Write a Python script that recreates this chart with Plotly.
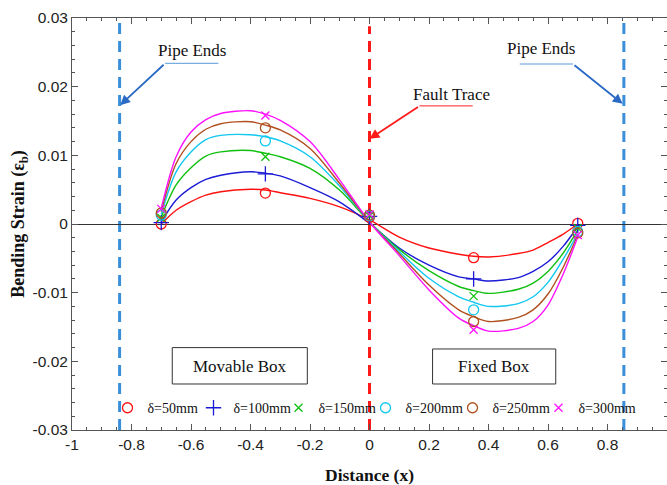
import plotly.graph_objects as go

# ---------------- data ----------------
marker_x = [-0.7, -0.35, 0.0, 0.35, 0.7]
series_names = ["δ=50mm", "δ=100mm", "δ=150mm", "δ=200mm", "δ=250mm", "δ=300mm"]
marker_y_50 = [0.0, 0.0045, 0.0010, -0.0049, 0.0001]
marker_y_100 = [0.0002, 0.0073, 0.0011, -0.0080, -0.0002]
marker_y_150 = [0.0009, 0.0098, 0.0012, -0.0105, -0.0006]
marker_y_200 = [0.0013, 0.0121, 0.0012, -0.0125, -0.0011]
marker_y_250 = [0.0016, 0.0140, 0.0013, -0.0142, -0.0013]
marker_y_300 = [0.0022, 0.0158, 0.0014, -0.0154, -0.0016]

curve_x = [-0.7, -0.65, -0.6, -0.55, -0.5, -0.4, -0.35, -0.3, -0.2, -0.1, 0.0,
           0.1, 0.2, 0.3, 0.35, 0.4, 0.5, 0.55, 0.6, 0.65, 0.7]
curve_y_50 = [0.0, 0.0020, 0.00325, 0.0042, 0.0047, 0.00505, 0.00495, 0.00456, 0.00374, 0.0025, 0.0006,
              -0.0019, -0.0035, -0.0044, -0.0047, -0.0048, -0.0043, -0.0038, -0.0027, -0.0015, 0.0]
curve_y_100 = [0.0003, 0.0035, 0.0053, 0.0065, 0.0071, 0.0076, 0.0074, 0.0070, 0.0053, 0.0032, 0.0001,
               -0.0035, -0.0060, -0.0077, -0.0080, -0.0083, -0.0078, -0.0069, -0.0055, -0.0033, -0.0004]
curve_y_150 = [0.0010, 0.0057, 0.0082, 0.0099, 0.0105, 0.0107, 0.0103, 0.0098, 0.0081, 0.0049, 0.0003,
               -0.0037, -0.0068, -0.0091, -0.0097, -0.0101, -0.0095, -0.0086, -0.0069, -0.0043, -0.0009]
curve_y_200 = [0.0014, 0.0076, 0.0105, 0.0123, 0.0129, 0.0130, 0.0127, 0.0121, 0.0098, 0.0055, 0.0003,
               -0.0040, -0.0079, -0.0106, -0.0114, -0.0120, -0.0116, -0.0106, -0.0085, -0.0052, -0.0014]
curve_y_250 = [0.0018, 0.0088, 0.0120, 0.0138, 0.0146, 0.0149, 0.0144, 0.0137, 0.0110, 0.0059, 0.0003,
               -0.0043, -0.0089, -0.0125, -0.0135, -0.0142, -0.0136, -0.0125, -0.0102, -0.0064, -0.0016]
curve_y_300 = [0.0023, 0.0098, 0.0134, 0.0152, 0.0161, 0.0165, 0.0160, 0.0151, 0.0120, 0.0064, 0.0003,
               -0.0046, -0.0096, -0.0137, -0.0148, -0.0156, -0.0152, -0.0142, -0.0118, -0.0074, -0.0019]

x_tick_vals = [-1, -0.8, -0.6, -0.4, -0.2, 0, 0.2, 0.4, 0.6, 0.8, 1]
x_tick_text = ["-1", "-0.8", "-0.6", "-0.4", "-0.2", "0", "0.2", "0.4", "0.6", "0.8", "1"]
y_tick_vals = [-0.03, -0.02, -0.01, 0, 0.01, 0.02, 0.03]
y_tick_text = ["-0.03", "-0.02", "-0.01", "0", "0.01", "0.02", "0.03"]

pipe_end_left = -0.84
pipe_end_right = 0.855
fault_x = 0.0

# ---------------- styles ----------------
colors = ["#ff1010", "#1a1ad6", "#10c010", "#10c8f0", "#b0501e", "#ff10ff"]
symbols = ["circle-open", "cross-thin-open", "x-thin-open", "circle-open", "circle-open", "x-thin-open"]
sizes = [10, 11, 8, 10, 10, 8]
marker_sets = [marker_y_50, marker_y_100, marker_y_150, marker_y_200, marker_y_250, marker_y_300]
curve_sets = [curve_y_50, curve_y_100, curve_y_150, curve_y_200, curve_y_250, curve_y_300]
legend_ids = ["legend", "legend2", "legend3", "legend4", "legend5", "legend6"]
legend_x = [0.0597, 0.2042, 0.3471, 0.4933, 0.6395, 0.7840]

SERIF = "Liberation Serif, Times New Roman, serif"
SANS = "Liberation Sans, Arial, sans-serif"

fig = go.Figure()

for name, cy, col in zip(series_names, curve_sets, colors):
    fig.add_trace(go.Scatter(x=curve_x, y=cy, mode="lines",
                             line=dict(color=col, width=1.4, shape="spline", smoothing=0.9),
                             showlegend=False, hoverinfo="skip"))

for name, my, col, sym, sz, lid in zip(series_names, marker_sets, colors, symbols, sizes, legend_ids):
    fig.add_trace(go.Scatter(x=marker_x, y=my, mode="markers", name=name, legend=lid,
                             marker=dict(symbol=sym, size=sz, color=col, line=dict(color=col, width=1.3))))

shapes = []
for xv in (pipe_end_left, pipe_end_right):
    shapes.append(dict(type="line", xref="x", yref="paper", x0=xv, x1=xv, y0=0, y1=1,
                       line=dict(color="#3a8fd8", width=3, dash="11px,7px"), layer="below"))
shapes.append(dict(type="line", xref="x", yref="paper", x0=fault_x, x1=fault_x, y0=0, y1=0.98,
                   line=dict(color="#ff1a1a", width=3, dash="11px,7px"), layer="below"))

# underlines of callouts
shapes.append(dict(type="line", xref="x", yref="y", x0=-0.687, x1=-0.508, y0=0.0234, y1=0.0234,
                   line=dict(color="#5a9ad8", width=1)))
shapes.append(dict(type="line", xref="x", yref="y", x0=0.505, x1=0.684, y0=0.0233, y1=0.0233,
                   line=dict(color="#5a9ad8", width=1)))
shapes.append(dict(type="line", xref="x", yref="y", x0=0.168, x1=0.347, y0=0.0172, y1=0.0172,
                   line=dict(color="#ff2020", width=1)))
# text boxes
shapes.append(dict(type="rect", xref="x", yref="y", x0=-0.663, x1=-0.209, y0=-0.0233, y1=-0.0180,
                   line=dict(color="#333333", width=1), fillcolor="white"))
shapes.append(dict(type="rect", xref="x", yref="y", x0=0.212, x1=0.626, y0=-0.0233, y1=-0.0182,
                   line=dict(color="#333333", width=1), fillcolor="white"))

annotations = [
    dict(x=-0.596, y=0.0253, xref="x", yref="y", text="Pipe Ends", showarrow=False,
         font=dict(family=SERIF, size=17, color="#111111")),
    dict(x=0.576, y=0.0256, xref="x", yref="y", text="Pipe Ends", showarrow=False,
         font=dict(family=SERIF, size=17, color="#111111")),
    dict(x=0.276, y=0.0188, xref="x", yref="y", text="Fault Trace", showarrow=False,
         font=dict(family=SERIF, size=17, color="#111111")),
    dict(x=-0.838, y=0.0173, ax=-0.687, ay=0.0234, xref="x", yref="y", axref="x", ayref="y",
         text="", showarrow=True, arrowhead=2, arrowsize=1.1, arrowwidth=1.8, arrowcolor="#2a6ac4"),
    dict(x=0.851, y=0.0175, ax=0.684, ay=0.0233, xref="x", yref="y", axref="x", ayref="y",
         text="", showarrow=True, arrowhead=2, arrowsize=1.1, arrowwidth=1.8, arrowcolor="#2a6ac4"),
    dict(x=0.0, y=0.0124, ax=0.168, ay=0.0172, xref="x", yref="y", axref="x", ayref="y",
         text="", showarrow=True, arrowhead=2, arrowsize=1.1, arrowwidth=1.8, arrowcolor="#ff1a1a"),
    dict(x=-0.436, y=-0.0207, xref="x", yref="y", text="Movable Box", showarrow=False,
         font=dict(family=SERIF, size=17, color="#111111")),
    dict(x=0.419, y=-0.0207, xref="x", yref="y", text="Fixed Box", showarrow=False,
         font=dict(family=SERIF, size=17, color="#111111")),
]

axis_common = dict(showgrid=False, showline=True, linecolor="#555555", linewidth=1,
                   ticks="inside", ticklen=6, tickcolor="#555555", mirror="ticks",
                   automargin=False,
                   tickfont=dict(family=SANS, size=15.5, color="#222222"))

legend_layouts = {}
for lid, lx in zip(legend_ids, legend_x):
    legend_layouts[lid] = dict(orientation="h", x=lx, y=0.053, xanchor="left", yanchor="middle",
                               bgcolor="rgba(0,0,0,0)", borderwidth=0, itemwidth=30,
                               font=dict(family=SERIF, size=14, color="#111111"))

fig.update_layout(
    width=667, height=485,
    margin=dict(l=72, r=0, t=18, b=55, autoexpand=False),
    paper_bgcolor="white", plot_bgcolor="white",
    shapes=shapes, annotations=annotations,
    showlegend=True,
    xaxis=dict(range=[-1, 1], tickvals=x_tick_vals, ticktext=x_tick_text,
               minor=dict(dtick=0.05, ticks="inside", ticklen=3, tickcolor="#555555"),
               title=dict(text="<b>Distance (x)</b>", font=dict(family=SERIF, size=17.5, color="#111111"),
                          standoff=29),
               zeroline=False, **axis_common),
    yaxis=dict(range=[-0.03, 0.03], tickvals=y_tick_vals, ticktext=y_tick_text,
               minor=dict(dtick=0.002, ticks="inside", ticklen=3, tickcolor="#555555"),
               title=dict(text="<b>Bending Strain (ε<sub>b</sub>)</b>",
                          font=dict(family=SERIF, size=18, color="#111111"), standoff=3),
               zeroline=True, zerolinecolor="#333333", zerolinewidth=1.3, **axis_common),
    **legend_layouts,
)

fig.write_html("out.html")
